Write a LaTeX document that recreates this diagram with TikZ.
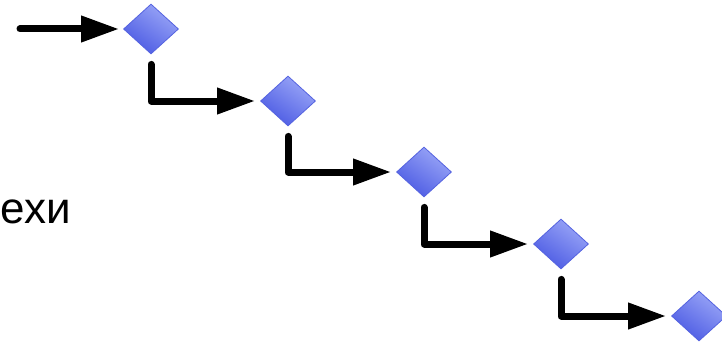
\documentclass[tikz,border=0pt]{standalone}
\usepackage{fontspec}
\setmainfont{Liberation Sans}
\usetikzlibrary{shapes.geometric,arrows.meta}
\definecolor{gemlight}{HTML}{9AA6F7}
\definecolor{gemdark}{HTML}{4B5AE3}
\definecolor{gemedge}{HTML}{5563E0}
\tikzset{
  gem/.style={shape=diamond, aspect=1.1, inner sep=0pt,
    minimum width=55pt, minimum height=50pt,
    draw=gemedge, line width=0.8pt,
    top color=gemlight, bottom color=gemdark, shading angle=-35},
  link/.style={line width=7pt, line cap=round, line join=round,
    -{Triangle[length=38pt,width=25pt]}, shorten >=5pt}
}
\begin{document}
\begin{tikzpicture}[x=1pt,y=-1pt]
  \useasboundingbox (0,0) rectangle (722,345);
  \fill[white] (0,0) rectangle (722,345);

  % the chain of steps
  \node[gem] (d1) at (151,29) {};
  \node[gem] (d2) at (288,101) {};
  \node[gem] (d3) at (424,172) {};
  \node[gem] (d4) at (561,244) {};
  \node[gem] (d5) at (699,316) {};

  % label on the left
  \node[anchor=base east, inner sep=0pt, font=\fontsize{44}{48}\selectfont] (lbl) at (71,223) {ехи};

  % entry arrow
  \coordinate (start) at (20,29);
  \draw[link, shorten >=4pt] (start) -- (d1.west);

  % elbow connectors between consecutive steps
  \draw[link] ([yshift=-10pt]d1.south) |- (d2.west);
  \draw[link] ([yshift=-10pt]d2.south) |- (d3.west);
  \draw[link] ([yshift=-10pt]d3.south) |- (d4.west);
  \draw[link] ([yshift=-10pt]d4.south) |- (d5.west);
\end{tikzpicture}
\end{document}
